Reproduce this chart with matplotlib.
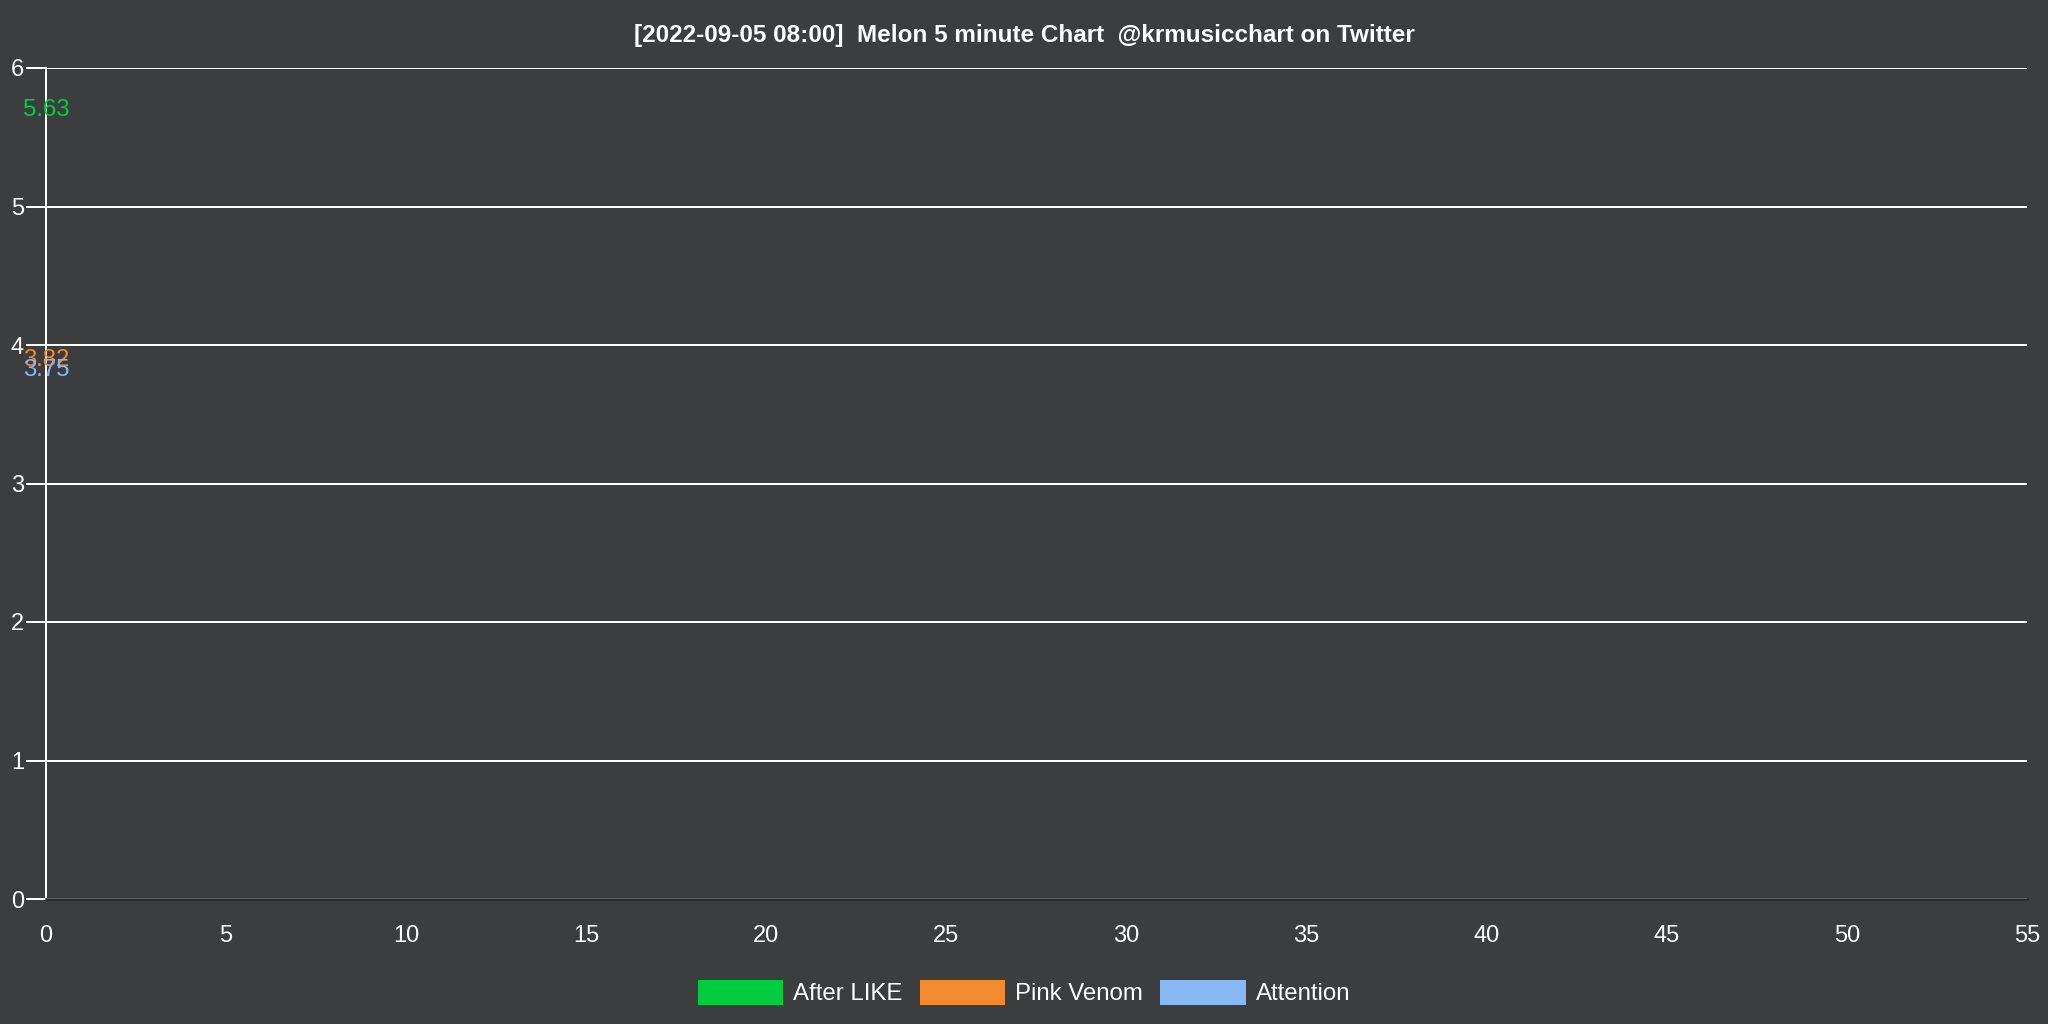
import matplotlib
matplotlib.use("Agg")
import matplotlib.pyplot as plt
from matplotlib.patches import Patch

# data: one point per song at x=0
songs = ["After LIKE", "Pink Venom", "Attention"]
song_colors = ["#00cc3f", "#f28b30", "#88b8f4"]
x_vals = [0]
values = {
    "After LIKE": [5.63],
    "Pink Venom": [3.82],
    "Attention": [3.75],
}
x_ticks = [0, 5, 10, 15, 20, 25, 30, 35, 40, 45, 50, 55]
y_ticks = [0, 1, 2, 3, 4, 5, 6]
title = "[2022-09-05 08:00]  Melon 5 minute Chart  @krmusicchart on Twitter"

bg = "#3c3d3f"
dark = "#2b2b2d"
plt.rcParams["font.family"] = ["Liberation Sans", "DejaVu Sans"]

fig = plt.figure(figsize=(20.48, 10.24), dpi=100, facecolor=bg)
ax = fig.add_axes([46 / 2048, 1 - 899 / 1024, (2027 - 46) / 2048, (899 - 68) / 1024])
ax.set_facecolor(bg)

for name, col in zip(songs, song_colors):
    ax.plot(x_vals, values[name], color=col, lw=2, marker=None)
    for xv, v in zip(x_vals, values[name]):
        ax.annotate(f"{v:.2f}", (xv, v), textcoords="offset points", xytext=(0, 2.5),
                    ha="center", va="baseline", color=col, fontsize=17.2, clip_on=False)

ax.set_xlim(0, 55)
ax.set_ylim(0, 6)
ax.set_xticks(x_ticks)
ax.set_yticks(y_ticks)
ax.tick_params(axis="x", length=0, pad=18.5, colors="white", labelsize=17)
ax.tick_params(axis="y", length=14.4, width=1.44, pad=1.5, colors="white", labelsize=17)
ax.yaxis.get_major_ticks()[0].tick1line.set_color(dark)

ax.set_axisbelow(True)
ax.yaxis.grid(True, color="white", lw=1.44)
ax.xaxis.grid(False)
for s in ["top", "right"]:
    ax.spines[s].set_visible(False)
ax.spines["left"].set_color("white")
ax.spines["left"].set_linewidth(1.44)
ax.spines["bottom"].set_color(dark)
ax.spines["bottom"].set_linewidth(1.8)

fig.text(0.5, 1 - 35.5 / 1024, title, ha="center", va="center", color="white",
         fontsize=17.45, fontweight="bold")

handles = [Patch(facecolor=c, edgecolor="none", label=n) for n, c in zip(songs, song_colors)]
leg = fig.legend(handles=handles, loc="center", bbox_to_anchor=(0.5, 1 - 992.5 / 1024), ncol=3,
                 frameon=False, fontsize=17.3, handlelength=3.55, handleheight=1.24,
                 handletextpad=0.42, columnspacing=0.72, labelcolor="white")

fig.savefig("out.png", dpi=100, facecolor=bg)
